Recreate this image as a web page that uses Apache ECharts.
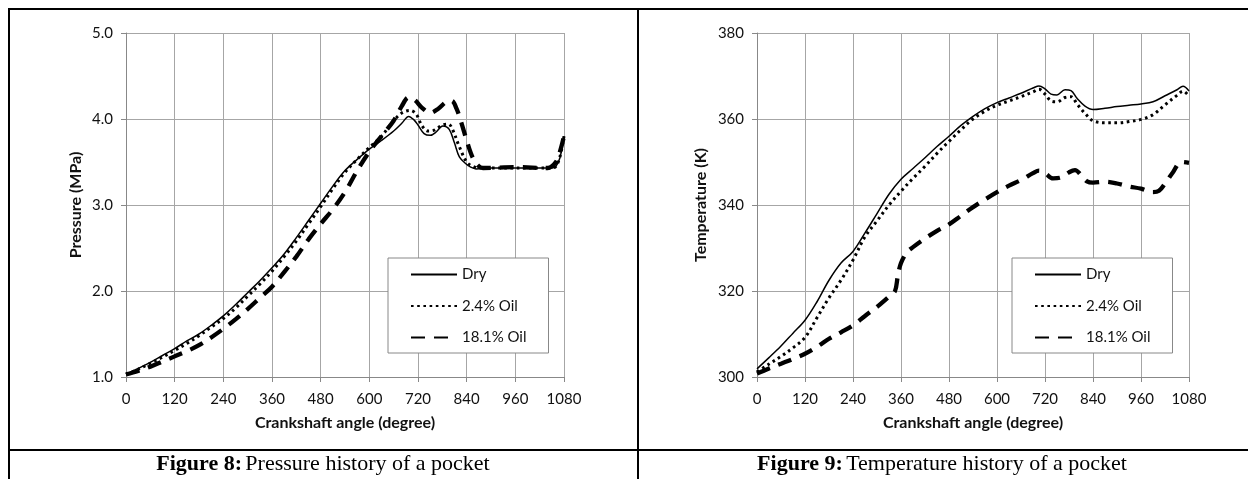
<!DOCTYPE html>
<html>
<head>
<meta charset="utf-8">
<script src="https://cdn.jsdelivr.net/npm/echarts@6/dist/echarts.min.js"></script>
<style>
html,body{margin:0;padding:0;background:#fff;}
#c{width:1248px;height:479px;}
</style>
</head>
<body>
<div id="c"></div>
<script>
// ---------- Data ----------
const seriesNames = ['Dry', '2.4% Oil', '18.1% Oil'];
const xTicks = [0, 120, 240, 360, 480, 600, 720, 840, 960, 1080];

// Figure 8 : Pressure (MPa)
const pDryAngle = [0,30,60,90,120,150,180,210,240,270,300,330,360,390,420,450,480,510,540,570,600,630,660,680,697,710,720,735,750,765,781,797,810,822,838,850,863,900,960,1020,1050,1060,1070,1080];
const pDryVal   = [1.03,1.10,1.17,1.25,1.33,1.42,1.50,1.60,1.71,1.84,1.98,2.12,2.27,2.43,2.62,2.82,3.02,3.22,3.40,3.53,3.65,3.75,3.86,3.95,4.03,3.99,3.93,3.83,3.81,3.85,3.92,3.88,3.72,3.56,3.48,3.44,3.42,3.43,3.43,3.43,3.43,3.45,3.55,3.80];

const pOil24Angle = [0,30,60,90,120,150,180,210,240,270,300,330,360,390,420,450,480,510,540,570,600,630,660,680,700,715,730,745,760,780,795,805,820,840,855,870,900,960,1020,1050,1060,1070,1080];
const pOil24Val   = [1.03,1.09,1.16,1.23,1.31,1.39,1.48,1.58,1.68,1.80,1.94,2.08,2.23,2.40,2.58,2.78,2.98,3.19,3.38,3.53,3.67,3.80,3.98,4.07,4.10,4.06,3.92,3.86,3.87,3.93,3.94,3.88,3.70,3.50,3.45,3.43,3.43,3.43,3.43,3.43,3.45,3.56,3.80];

const pOil18Angle = [0,30,60,90,120,150,180,210,240,270,300,330,360,390,420,450,480,510,540,570,600,630,660,680,697,712,730,750,770,790,803,815,826,842,855,868,880,960,1040,1060,1070,1080];
const pOil18Val   = [1.03,1.07,1.12,1.18,1.24,1.30,1.37,1.46,1.56,1.67,1.79,1.92,2.05,2.22,2.40,2.60,2.78,2.95,3.15,3.40,3.62,3.80,3.98,4.15,4.25,4.22,4.13,4.07,4.12,4.20,4.21,4.12,3.97,3.72,3.55,3.46,3.43,3.44,3.43,3.50,3.62,3.80];

// Figure 9 : Temperature (K)
const tDryAngle = [0,30,60,90,120,150,180,210,240,270,300,330,360,390,420,450,480,510,540,570,600,630,660,690,705,720,735,750,770,785,800,820,840,870,900,930,960,990,1020,1050,1065,1080];
const tDryVal   = [301.9,304.5,307.2,310.2,313.2,317.5,322.5,326.5,329.2,333.5,338.0,342.5,346.0,348.5,351.0,353.6,356.0,358.5,360.6,362.4,363.8,364.9,366.0,367.2,367.7,367.0,365.8,365.6,366.8,366.6,364.8,363.0,362.2,362.5,362.9,363.2,363.5,364.0,365.4,366.8,367.6,366.5];

const tOil24Angle = [0,30,60,90,120,150,180,210,240,270,300,330,360,390,420,450,480,510,540,570,600,630,660,690,705,720,735,750,770,785,800,820,840,870,900,930,960,990,1020,1050,1065,1080];
const tOil24Val   = [301.2,303.0,304.8,306.8,309.2,313.8,318.4,322.5,327.2,332.6,336.3,340.0,343.2,346.2,349.0,352.0,354.8,357.5,360.0,361.8,363.2,364.2,365.2,366.3,366.9,365.8,364.2,364.0,365.0,365.2,363.5,361.3,359.6,359.1,359.1,359.4,359.9,361.0,363.3,365.5,366.5,365.3];

const tOil18Angle = [0,30,60,90,120,150,180,210,240,270,300,330,345,352,360,375,390,420,450,480,510,540,570,600,630,660,690,705,720,740,760,780,795,810,825,840,870,900,930,960,990,1005,1020,1040,1060,1080];
const tOil18Val   = [300.8,302.0,303.1,304.2,305.4,307.0,308.9,310.4,312.0,314.2,316.3,318.7,320.0,323.5,326.5,329.0,330.2,332.2,334.0,335.5,337.5,339.5,341.3,343.0,344.5,345.8,347.4,348.0,347.4,346.2,346.4,347.6,348.1,347.0,345.5,345.2,345.4,345.0,344.3,343.8,343.0,343.3,345.0,347.6,350.0,349.8];

// ---------- Chart ----------
function pairs(a, v) { return a.map((x, i) => [x, v[i]]); }

const FONT = 'Lato, "Open Sans", sans-serif';
const SERIF = '"Liberation Serif", "Times New Roman", serif';
const lineStyles = [
  { color: '#000', width: 1.5, type: 'solid' },
  { color: '#000', width: 3, type: [2.6, 3.6], cap: 'butt' },
  { color: '#000', width: 4.3, type: [14, 9], cap: 'butt' }
];

function xAxis(gi) {
  return {
    gridIndex: gi, type: 'value', min: 0, max: 1080, interval: 120,
    name: 'Crankshaft angle (degree)', nameLocation: 'middle', nameGap: 38,
    nameTextStyle: { fontFamily: FONT, fontSize: 16, fontWeight: 'bold', color: '#111' },
    axisLine: { show: true, lineStyle: { color: '#888', width: 1 } },
    axisTick: { show: true, length: 5, lineStyle: { color: '#888' } },
    axisLabel: { fontFamily: FONT, fontSize: 15, color: '#111', margin: 15, formatter: v => String(v) },
    splitLine: { show: true, lineStyle: { color: '#a6a6a6', width: 1 } }
  };
}
function yAxis(gi, min, max, interval, name, fmt, gap) {
  return {
    gridIndex: gi, type: 'value', min: min, max: max, interval: interval,
    name: name, nameLocation: 'middle', nameGap: gap, nameRotate: 90,
    nameTextStyle: { fontFamily: FONT, fontSize: 16, fontWeight: 'bold', color: '#111' },
    axisLine: { show: true, lineStyle: { color: '#888', width: 1 } },
    axisTick: { show: true, length: 5, lineStyle: { color: '#888' } },
    axisLabel: { fontFamily: FONT, fontSize: 15, color: '#111', margin: 13, formatter: fmt },
    splitLine: { show: true, lineStyle: { color: '#a6a6a6', width: 1 } }
  };
}
function mkSeries(name, gi, data, ls, z) {
  return {
    name: name, type: 'line', xAxisIndex: gi, yAxisIndex: gi,
    data: data, showSymbol: false, symbol: 'none', smooth: 0.35,
    lineStyle: ls, z: z, animation: false
  };
}
function legend(left) {
  return {
    orient: 'vertical', left: left, top: 258,
    data: seriesNames,
    itemWidth: 46, itemHeight: 14, itemGap: 16.5, itemTextGap: 3,
    padding: [9, 22, 8, 22],
    itemStyle: { opacity: 0 },
    backgroundColor: '#fff', borderColor: '#888', borderWidth: 1, borderRadius: 0,
    textStyle: { fontFamily: FONT, fontSize: 15, color: '#111' },
    selectedMode: false
  };
}

const chart = echarts.init(document.getElementById('c'), null, { renderer: 'canvas' });
chart.setOption({
  animation: false,
  backgroundColor: '#fff',
  grid: [
    { left: 126, right: 1248 - 564, top: 33, bottom: 479 - 377 },
    { left: 757, right: 1248 - 1189, top: 33, bottom: 479 - 377 }
  ],
  xAxis: [xAxis(0), xAxis(1)],
  yAxis: [
    yAxis(0, 1, 5, 1, 'Pressure (MPa)', v => v.toFixed(1), 42),
    yAxis(1, 300, 380, 20, 'Temperature (K)', v => String(v), 48)
  ],
  legend: [legend(388), legend(1012)],
  series: [
    mkSeries(seriesNames[0], 0, pairs(pDryAngle, pDryVal), lineStyles[0], 5),
    mkSeries(seriesNames[1], 0, pairs(pOil24Angle, pOil24Val), lineStyles[1], 4),
    mkSeries(seriesNames[2], 0, pairs(pOil18Angle, pOil18Val), lineStyles[2], 3),
    mkSeries(seriesNames[0], 1, pairs(tDryAngle, tDryVal), lineStyles[0], 5),
    mkSeries(seriesNames[1], 1, pairs(tOil24Angle, tOil24Val), lineStyles[1], 4),
    mkSeries(seriesNames[2], 1, pairs(tOil18Angle, tOil18Val), lineStyles[2], 3)
  ],
  graphic: [
    { type: 'line', shape: { x1: 8, y1: 9, x2: 1248, y2: 9 }, style: { stroke: '#000', lineWidth: 2 } },
    { type: 'line', shape: { x1: 9, y1: 9, x2: 9, y2: 479 }, style: { stroke: '#000', lineWidth: 2 } },
    { type: 'line', shape: { x1: 638, y1: 9, x2: 638, y2: 479 }, style: { stroke: '#000', lineWidth: 2 } },
    { type: 'line', shape: { x1: 8, y1: 450, x2: 1248, y2: 450 }, style: { stroke: '#000', lineWidth: 2 } },
    {
      type: 'text', x: 323, y: 464,
      style: {
        text: '{b|Figure 8:} {n|Pressure history of a pocket}',
        align: 'center', verticalAlign: 'middle',
        rich: {
          b: { fontFamily: SERIF, fontSize: 22, fontWeight: 'bold', fill: '#000' },
          n: { fontFamily: SERIF, fontSize: 22, fill: '#000' }
        }
      }
    },
    {
      type: 'text', x: 942, y: 464,
      style: {
        text: '{b|Figure 9:} {n|Temperature history of a pocket}',
        align: 'center', verticalAlign: 'middle',
        rich: {
          b: { fontFamily: SERIF, fontSize: 22, fontWeight: 'bold', fill: '#000' },
          n: { fontFamily: SERIF, fontSize: 22, fill: '#000' }
        }
      }
    }
  ]
});
</script>
</body>
</html>
